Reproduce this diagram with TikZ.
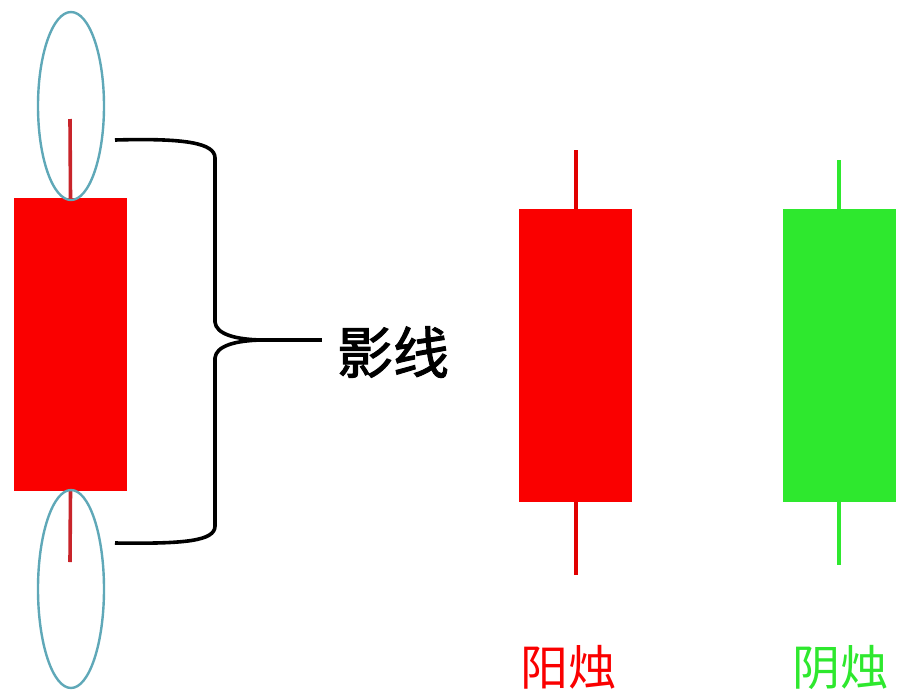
\documentclass[tikz,border=0pt]{standalone}
\usepackage{fontspec}
\newfontfamily\cjk{Noto Sans CJK SC}
\newfontfamily\cjkmed{Noto Sans CJK SC}[FakeBold=1.8]
\definecolor{candlered}{HTML}{FA0000}
\definecolor{wickred}{HTML}{C8242A}
\definecolor{candlegreen}{HTML}{2EE82E}
\definecolor{ringblue}{HTML}{5FA8B8}
\begin{document}
\begin{tikzpicture}[x=1pt,y=-1pt,
  body/.style={draw=none,inner sep=0pt,minimum width=113pt,minimum height=293pt},
  wick/.style={line width=3.6pt},
  ring/.style={draw=ringblue,line width=2.4pt},
  bracestyle/.style={line width=3.6pt,line join=round,line cap=butt},
  lbl/.style={inner sep=0pt}]
\useasboundingbox (0,0) rectangle (915,691);
\fill[white] (0,0) rectangle (915,691);

% left candle
\coordinate (lwt) at (70,119);
\coordinate (lwb) at (70,562);
\node[body,fill=candlered] (lbody) at (70.5,344.5) {};
\draw[wick,wickred] (lwt) -- (lbody.north);
\draw[wick,wickred] (lbody.south) -- (lwb);
\draw[ring] (71,106) ellipse [x radius=33,y radius=94];
\draw[ring] (71,589) ellipse [x radius=33,y radius=99];

% brace and label
\node[lbl,font=\cjkmed\fontsize{56}{60}\selectfont] (shadow) at (393,352) {影线};
\coordinate (tip) at (262,340);
\coordinate (brend) at (322,340);
\draw[bracestyle] (115,140) .. controls (185,138) and (215,143) .. (215,158) -- (215,322)
  .. controls (216,334) and (235,339.5) .. (tip);
\draw[bracestyle] (tip) .. controls (235,340.5) and (216,346) .. (215,358) -- (215,526)
  .. controls (215,541) and (185,544) .. (115,543);
\draw[bracestyle] (tip) -- (brend);

% middle (yang) candle
\coordinate (mwt) at (576,150);
\coordinate (mwb) at (576,575);
\node[body,fill=candlered] (mbody) at (575,355.5) {};
\draw[wick,candlered!90!black] (mwt) -- (mwt |- mbody.north);
\draw[wick,candlered!90!black] (mwb |- mbody.south) -- (mwb);

% right (yin) candle
\coordinate (rwt) at (839,160);
\coordinate (rwb) at (839,565);
\node[body,fill=candlegreen] (rbody) at (839,355.5) {};
\draw[wick,candlegreen] (rwt) -- (rbody.north);
\draw[wick,candlegreen] (rbody.south) -- (rwb);

% labels
\node[lbl,text=candlered,font=\cjk\fontsize{48}{52}\selectfont] (yang) at (568,667) {阳烛};
\node[lbl,text=candlegreen,font=\cjk\fontsize{48}{52}\selectfont] (yin) at (840,667) {阴烛};
\end{tikzpicture}
\end{document}
